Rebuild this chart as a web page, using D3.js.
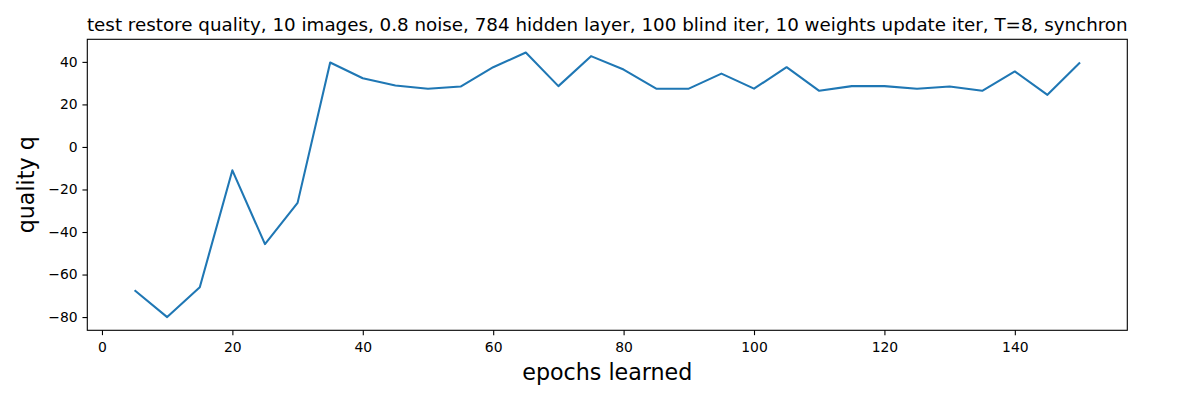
<!DOCTYPE html>
<html>
<head>
<meta charset="utf-8">
<script src="https://cdn.jsdelivr.net/npm/d3@7"></script>
<style>
  body { margin: 0; background: #fff; }
  svg { font-family: "DejaVu Sans", sans-serif; }
  .line { fill: none; stroke: #1f77b4; stroke-width: 2.08px; stroke-linejoin: round; }
  .tick line { stroke: #000; stroke-width: 1.1px; }
  .tick text { font-size: 13.9px; fill: #000; }
</style>
</head>
<body>
<svg id="chart"></svg>
<script>
// data
const epochs = [5, 10, 15, 20, 25, 30, 35, 40, 45, 50, 55, 60, 65, 70, 75,
  80, 85, 90, 95, 100, 105, 110, 115, 120, 125, 130, 135, 140, 145, 150];
const quality = [-67.4, -80, -66, -11, -45.7, -26.3, 39.7, 32.3, 28.9, 27.4, 28.4, 37.5, 44.4, 28.6, 42.7,
  36.4, 27.4, 27.4, 34.5, 27.4, 37.5, 26.4, 28.6, 28.6, 27.4, 28.4, 26.4, 35.5, 24.5, 39.7];
const xTicks = [0, 20, 40, 60, 80, 100, 120, 140];
const yTicks = [-80, -60, -40, -20, 0, 20, 40];

const titleText = "test restore quality, 10 images, 0.8 noise, 784 hidden layer, 100 blind iter, 10 weights update iter, T=8, synchron";

const W = 1200, H = 400;
const margin = { top: 39.3, right: 72.7, bottom: 69.7, left: 87.3 },
  width = W - margin.left - margin.right,
  height = H - margin.top - margin.bottom;

const data = epochs.map((e, i) => ({ x: e, y: quality[i] }));

// matplotlib style 5% margins
const xExt = d3.extent(epochs), yExt = d3.extent(quality);
const xPad = (xExt[1] - xExt[0]) * 0.05, yPad = (yExt[1] - yExt[0]) * 0.05;

const x = d3.scaleLinear().domain([xExt[0] - xPad, xExt[1] + xPad]).range([0, width]);
const y = d3.scaleLinear().domain([yExt[0] - yPad, yExt[1] + yPad]).range([height, 0]);

const svg = d3.select("#chart").attr("width", W).attr("height", H);
const g = svg.append("g")
  .attr("transform", "translate(" + margin.left + "," + margin.top + ")");

// the line
const valueline = d3.line().x(d => x(d.x)).y(d => y(d.y));
g.append("path").datum(data).attr("class", "line").attr("d", valueline);

// axes
const fmt = d => (d < 0 ? "\u2212" : "") + Math.abs(d);
const xAxis = g.append("g")
  .attr("transform", "translate(0," + height + ")")
  .call(d3.axisBottom(x).tickValues(xTicks).tickSize(4.86).tickPadding(6.6).tickFormat(fmt));
const yAxis = g.append("g")
  .call(d3.axisLeft(y).tickValues(yTicks).tickSize(4.86).tickPadding(4.86).tickFormat(fmt));
xAxis.select(".domain").remove();
yAxis.select(".domain").remove();
xAxis.attr("font-family", null).attr("font-size", null);
yAxis.attr("font-family", null).attr("font-size", null);

// frame
g.append("rect")
  .attr("width", width).attr("height", height)
  .attr("fill", "none").attr("stroke", "#000").attr("stroke-width", 1.1);

// title
svg.append("text")
  .attr("x", margin.left + width / 2).attr("y", margin.top - 8.3)
  .attr("text-anchor", "middle")
  .style("font-size", "18.3px")
  .text(titleText);

// axis labels
svg.append("text")
  .attr("x", margin.left + width / 2).attr("y", 379.5)
  .attr("text-anchor", "middle")
  .style("font-size", "22.2px")
  .text("epochs learned");

svg.append("text")
  .attr("transform", "translate(34," + (margin.top + height / 2) + ") rotate(-90)")
  .attr("text-anchor", "middle")
  .style("font-size", "22.2px")
  .text("quality q");
</script>
</body>
</html>
